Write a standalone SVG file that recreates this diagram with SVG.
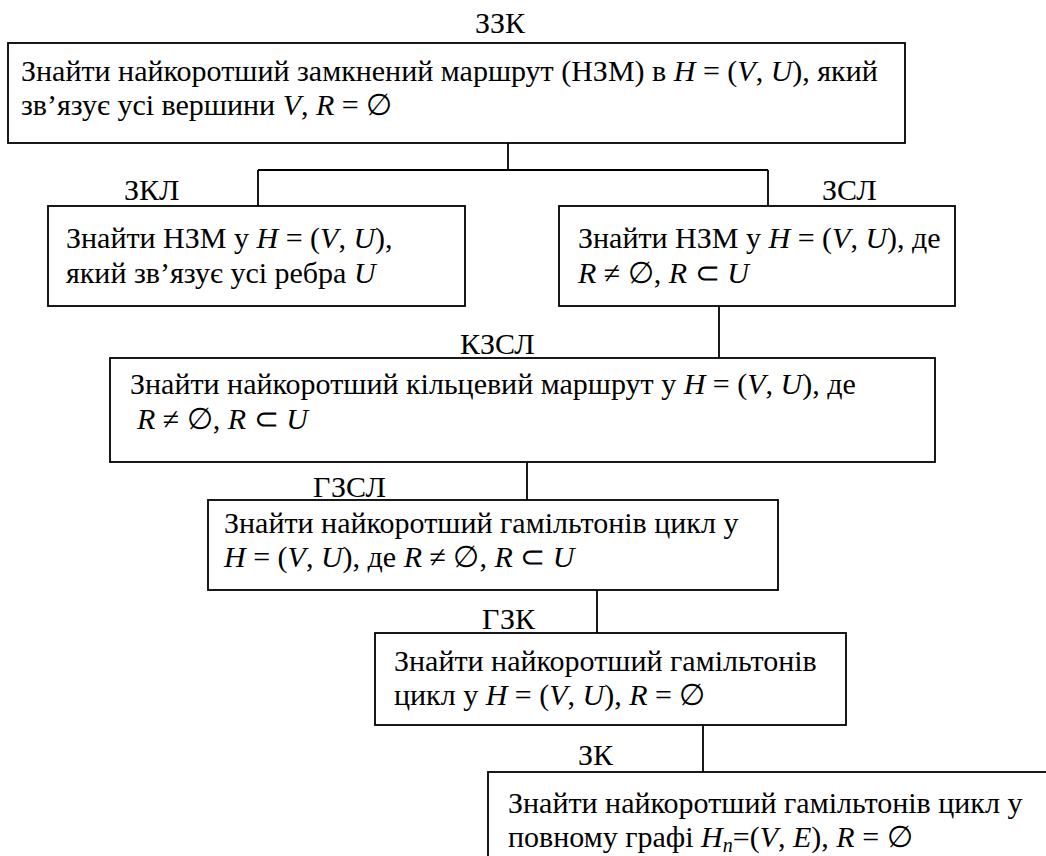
<svg xmlns="http://www.w3.org/2000/svg" width="1046" height="856" viewBox="0 0 1046 856" font-family="'Liberation Serif', serif">
<style>
.t{font-family:'Liberation Serif','Times New Roman',serif;font-size:30px;fill:#000}
.i{font-style:italic}
.box{fill:#fff;stroke:#000;stroke-width:1.8}
.ln{fill:none;stroke:#000;stroke-width:1.8}
</style>
<rect width="1046" height="856" fill="#fff"/>
<g id="connectors">
<path class="ln" d="M508,143V170M258,170H768M258,170V206M768,170V206"/>
<path class="ln" d="M719,306V358"/>
<path class="ln" d="M527,462V500"/>
<path class="ln" d="M597,590V633"/>
<path class="ln" d="M703,725V772"/>
</g>
<g id="zzk">
<text class="t" x="500" y="33" text-anchor="middle">ЗЗК</text>
<rect class="box" x="8" y="43" width="897" height="100"/>
<text class="t" x="21" y="81">Знайти найкоротший замкнений маршрут (НЗМ) в <tspan class="i">H</tspan> = (<tspan class="i">V</tspan>, <tspan class="i">U</tspan>), який</text>
<text class="t" x="21" y="115">зв’язує усі вершини <tspan class="i">V</tspan>, <tspan class="i">R</tspan> = ∅</text>
</g>
<g id="zkl">
<text class="t" x="124" y="200">ЗКЛ</text>
<rect class="box" x="48" y="206" width="417" height="100"/>
<text class="t" x="66" y="248">Знайти НЗМ у <tspan class="i">H</tspan> = (<tspan class="i">V</tspan>, <tspan class="i">U</tspan>),</text>
<text class="t" x="66" y="283">який зв’язує усі ребра <tspan class="i">U</tspan></text>
</g>
<g id="zsl">
<text class="t" x="822" y="200">ЗСЛ</text>
<rect class="box" x="559" y="206" width="396" height="100"/>
<text class="t" x="578" y="248">Знайти НЗМ у <tspan class="i">H</tspan> = (<tspan class="i">V</tspan>, <tspan class="i">U</tspan>), де</text>
<text class="t" x="578" y="283"><tspan class="i">R</tspan> ≠ ∅, <tspan class="i">R</tspan> ⊂ <tspan class="i">U</tspan></text>
</g>
<g id="kzsl">
<text class="t" x="460" y="354">КЗСЛ</text>
<rect class="box" x="110" y="358" width="825" height="104"/>
<text class="t" x="130" y="394">Знайти найкоротший кільцевий маршрут у <tspan class="i">H</tspan> = (<tspan class="i">V</tspan>, <tspan class="i">U</tspan>), де</text>
<text class="t" x="137" y="429"><tspan class="i">R</tspan> ≠ ∅, <tspan class="i">R</tspan> ⊂ <tspan class="i">U</tspan></text>
</g>
<g id="gzsl">
<text class="t" x="313" y="497">ГЗСЛ</text>
<rect class="box" x="208" y="500" width="570" height="90"/>
<text class="t" x="224" y="533">Знайти найкоротший гамільтонів цикл у</text>
<text class="t" x="224" y="567"><tspan class="i">H</tspan> = (<tspan class="i">V</tspan>, <tspan class="i">U</tspan>), де <tspan class="i">R</tspan> ≠ ∅, <tspan class="i">R</tspan> ⊂ <tspan class="i">U</tspan></text>
</g>
<g id="gzk">
<text class="t" x="482" y="629">ГЗК</text>
<rect class="box" x="375" y="633" width="471" height="92"/>
<text class="t" x="394" y="671">Знайти найкоротший гамільтонів</text>
<text class="t" x="394" y="705">цикл у <tspan class="i">H</tspan> = (<tspan class="i">V</tspan>, <tspan class="i">U</tspan>), <tspan class="i">R</tspan> = ∅</text>
</g>
<g id="zk">
<text class="t" x="578" y="765">ЗК</text>
<rect class="box" x="488" y="772" width="570" height="100"/>
<text class="t" x="508" y="813">Знайти найкоротший гамільтонів цикл у</text>
<text class="t" x="508" y="847">повному графі <tspan class="i">H</tspan><tspan class="i" font-size="20" dy="5">n</tspan><tspan dy="-5">=(</tspan><tspan class="i">V</tspan>, <tspan class="i">E</tspan>), <tspan class="i">R</tspan> = ∅</text>
</g>
</svg>
